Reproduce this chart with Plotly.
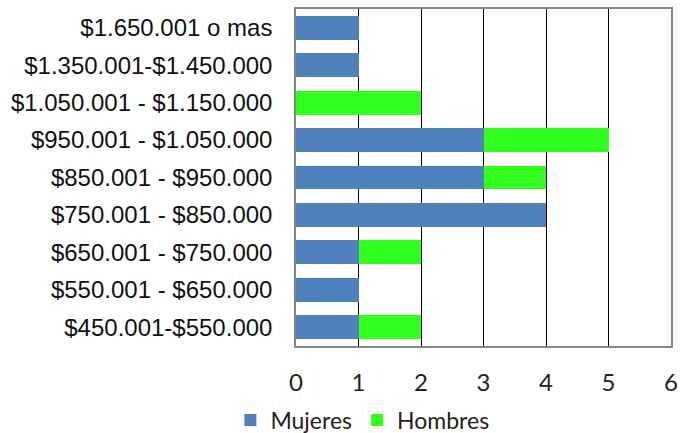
import plotly.graph_objects as go

categories = [
    "$450.001-$550.000",
    "$550.001 - $650.000",
    "$650.001 - $750.000",
    "$750.001 - $850.000",
    "$850.001 - $950.000",
    "$950.001 - $1.050.000",
    "$1.050.001 - $1.150.000",
    "$1.350.001-$1.450.000",
    "$1.650.001 o mas",
]
mujeres = [1, 1, 1, 4, 3, 3, 0, 1, 1]
hombres = [1, 0, 1, 0, 1, 2, 2, 0, 0]
x_ticks = [0, 1, 2, 3, 4, 5, 6]

fig = go.Figure()
fig.add_trace(go.Bar(y=categories, x=mujeres, name="Mujeres", orientation="h",
                     marker=dict(color="#4F81BD", line=dict(width=0))))
fig.add_trace(go.Bar(y=categories, x=hombres, name="Hombres", orientation="h",
                     marker=dict(color="#33FF1F", line=dict(width=0))))

fig.update_layout(
    barmode="stack",
    bargap=0.36,
    width=691, height=433,
    margin=dict(l=296, r=20, t=9, b=87, autoexpand=False),
    paper_bgcolor="white",
    plot_bgcolor="white",
    showlegend=True,
    legend=dict(orientation="h", x=-0.175, xanchor="left", y=-0.22, yanchor="middle",
                font=dict(family="Lato, Open Sans, sans-serif", size=23, color="#222222"),
                itemwidth=30, tracegroupgap=0, traceorder="normal"),
    xaxis=dict(range=[0, 6], tickvals=x_ticks, showgrid=True, gridcolor="#000000", gridwidth=1,
               zeroline=False, showline=True, linecolor="#868686", linewidth=1.5, mirror=True,
               ticks="", tickfont=dict(family="Lato, Open Sans, sans-serif", size=24, color="#222222"),
               ticklabelstandoff=14, fixedrange=True, automargin=False),
    yaxis=dict(categoryorder="array", categoryarray=categories, showgrid=False, zeroline=False,
               showline=True, linecolor="#868686", linewidth=1.5, mirror=True, ticks="",
               tickfont=dict(family="Liberation Sans, Arial, sans-serif", size=24, color="#111111"),
               ticklabelstandoff=17, fixedrange=True, automargin=False),
)

fig.write_html("out.html", config={"displayModeBar": False},
               post_script="document.body.style.margin='0';document.body.style.padding='0';")
